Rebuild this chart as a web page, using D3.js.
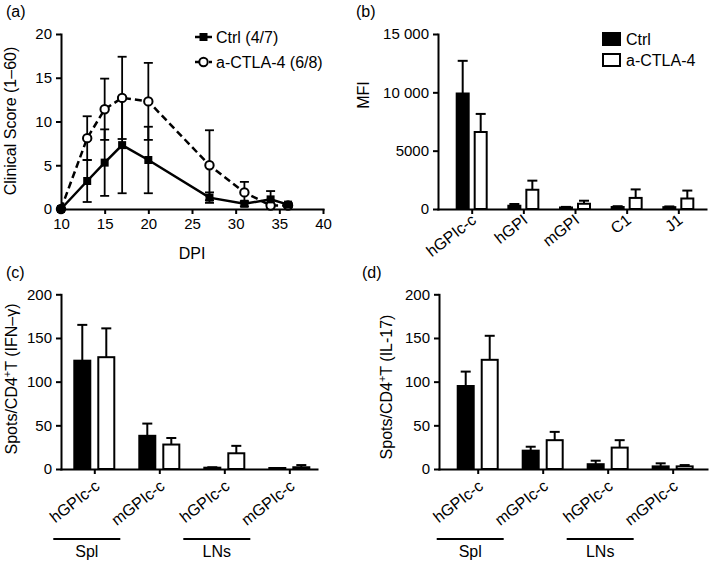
<!DOCTYPE html>
<html><head><meta charset="utf-8">
<script src="https://cdn.jsdelivr.net/npm/d3@7"></script>
<style>
body{margin:0;background:#fff}
svg{display:block;font-family:"Liberation Sans",Arial,Helvetica,sans-serif}
</style></head><body>
<svg id="chart" width="709" height="562"></svg>
<script>
// ---------- Data ----------
// (a) clinical score
const dpiDays = [10, 13, 15, 17, 20, 27, 31, 34, 36];
const ctrlScore = [0, 3.2, 5.3, 7.3, 5.6, 1.3, 0.6, 1.1, 0.5];
const ctrlScoreErr = [0, 2.4, 3.8, 5.5, 3.8, 0.6, 0.3, 0.95, 0.2];
const actlaScore = [0, 8.1, 11.4, 12.7, 12.3, 5.0, 1.9, 0.4, 0.4];
const actlaScoreErr = [0, 2.5, 3.5, 4.7, 4.4, 4.0, 1.2, 0.2, 0.2];
const scoreTicks = [0, 5, 10, 15, 20];
const dpiTicks = [10, 15, 20, 25, 30, 35, 40];
const scoreLegend = ["Ctrl (4/7)", "a-CTLA-4 (6/8)"];

// (b) MFI
const mfiCats = ["hGPIc-c", "hGPI", "mGPI", "C1", "J1"];
const mfiCtrl = [9900, 280, 130, 170, 160];
const mfiCtrlErr = [2800, 150, 50, 70, 60];
const mfiActla = [6600, 1650, 450, 950, 900];
const mfiActlaErr = [1550, 780, 260, 730, 680];
const mfiTicks = [0, 5000, 10000, 15000];
const seriesNames = ["Ctrl", "a-CTLA-4"];

// (c),(d) ELISpot
const spotCats = ["hGPIc-c", "mGPIc-c", "hGPIc-c", "mGPIc-c"];
const spotGroupNames = ["Spl", "LNs"];
const spotGroupStart = [0, 2];
const spotGroupEnd = [1, 3];
const ifnCtrl = [124, 38, 1.5, 0.3];
const ifnCtrlErr = [41, 14, 0.5, 0];
const ifnActla = [128, 28, 18, 2];
const ifnActlaErr = [33, 7.5, 8.5, 2.5];
const il17Ctrl = [95, 21, 5.5, 3];
const il17CtrlErr = [16.5, 4.5, 4, 3.5];
const il17Actla = [125, 33, 24.5, 3];
const il17ActlaErr = [27.5, 9.5, 8.5, 1.5];
const spotTicks = [0, 50, 100, 150, 200];

// ---------- Drawing ----------
const svg = d3.select("#chart");
const INK = "#000";
const FONT = '"Liberation Sans",Arial,Helvetica,sans-serif';
const TICK_FS = 15, LABEL_FS = 16;

function styleAxis(g) {
  g.attr("font-family", FONT).attr("font-size", TICK_FS);
  g.selectAll("path.domain").attr("stroke", INK).attr("stroke-width", 2).attr("stroke-linecap", "square");
  g.selectAll(".tick line").attr("stroke", INK).attr("stroke-width", 2);
  g.selectAll(".tick text").attr("fill", INK);
}

function panelLabel(txt, x, y) {
  svg.append("text").attr("x", x).attr("y", y).attr("font-size", LABEL_FS).attr("fill", INK).text(txt);
}

function yTitle(x, y, parts) {
  const t = svg.append("text").attr("transform", `translate(${x},${y}) rotate(-90)`)
    .attr("text-anchor", "middle").attr("font-size", LABEL_FS).attr("fill", INK);
  parts.forEach(p => {
    const s = t.append("tspan").text(p.t);
    if (p.sup) s.attr("dy", -6).attr("font-size", 11);
    if (p.after) s.attr("dy", 6);
  });
}

// ----- Panel (a) -----
(function () {
  const x = d3.scaleLinear().domain([10, 40]).range([61, 323]);
  const y = d3.scaleLinear().domain([0, 20]).range([209, 34]);
  const gx = svg.append("g").attr("transform", "translate(0,209)")
    .call(d3.axisBottom(x).tickValues(dpiTicks).tickSize(5).tickSizeOuter(0).tickPadding(4));
  const gy = svg.append("g").attr("transform", "translate(61,0)")
    .call(d3.axisLeft(y).tickValues(scoreTicks).tickSize(5).tickSizeOuter(0).tickPadding(4));
  styleAxis(gx); styleAxis(gy);

  const series = [
    {v: actlaScore, e: actlaScoreErr, dash: "7,4"},
    {v: ctrlScore, e: ctrlScoreErr, dash: null}
  ];
  const cap = 4.5;
  series.slice().reverse().forEach(s => {
    const g = svg.append("g").attr("stroke", INK).attr("stroke-width", 1.8);
    dpiDays.forEach((d, i) => {
      if (s.e[i] <= 0) return;
      const lo = y(Math.max(0, s.v[i] - s.e[i])), hi = y(s.v[i] + s.e[i]);
      g.append("line").attr("x1", x(d)).attr("x2", x(d)).attr("y1", lo).attr("y2", hi);
      g.append("line").attr("x1", x(d) - cap).attr("x2", x(d) + cap).attr("y1", hi).attr("y2", hi);
      g.append("line").attr("x1", x(d) - cap).attr("x2", x(d) + cap).attr("y1", lo).attr("y2", lo);
    });
  });
  const line = d3.line().x((d, i) => x(dpiDays[i])).y(d => y(d));
  series.forEach(s => {
    svg.append("path").attr("d", line(s.v)).attr("fill", "none").attr("stroke", INK)
      .attr("stroke-width", 2.5).attr("stroke-dasharray", s.dash);
  });
  svg.append("g").selectAll("circle").data(actlaScore).join("circle")
    .attr("cx", (d, i) => x(dpiDays[i])).attr("cy", d => y(d)).attr("r", 4.2)
    .attr("fill", "#fff").attr("stroke", INK).attr("stroke-width", 2);
  svg.append("g").selectAll("rect").data(ctrlScore).join("rect")
    .attr("x", (d, i) => x(dpiDays[i]) - 4).attr("y", d => y(d) - 4)
    .attr("width", 8).attr("height", 8).attr("fill", INK);

  const lg = svg.append("g");
  [37, 62].forEach((ly, k) => {
    lg.append("line").attr("x1", 195).attr("x2", 212).attr("y1", ly).attr("y2", ly)
      .attr("stroke", INK).attr("stroke-width", 2.5).attr("stroke-dasharray", k === 1 ? "4,3" : null);
    if (k === 0) lg.append("rect").attr("x", 199.5).attr("y", ly - 4).attr("width", 8).attr("height", 8).attr("fill", INK);
    else lg.append("circle").attr("cx", 203.5).attr("cy", ly).attr("r", 4.2).attr("fill", "#fff").attr("stroke", INK).attr("stroke-width", 2);
    lg.append("text").attr("x", 216).attr("y", ly).attr("dy", "0.36em").attr("font-size", LABEL_FS).attr("fill", INK).text(scoreLegend[k]);
  });

  svg.append("text").attr("x", 192).attr("y", 259).attr("text-anchor", "middle")
    .attr("font-size", LABEL_FS).attr("fill", INK).text("DPI");
  yTitle(16, 121, [{t: "Clinical Score (1–60)"}]);
  panelLabel("(a)", 6, 17);
})();

// ----- generic bar panel -----
function barPanel(o) {
  const x = d3.scalePoint().domain(d3.range(o.cats.length)).range([o.left, o.right]).padding(o.pad).align(o.align);
  const x1 = d3.scaleBand().domain(seriesNames).range([-o.half, o.half]).paddingInner(o.inner);
  const y = d3.scaleLinear().domain([0, o.yMax]).range([o.bottom, o.top]);

  const gx = svg.append("g").attr("transform", `translate(0,${o.bottom})`)
    .call(d3.axisBottom(x).tickSize(5).tickSizeOuter(0).tickFormat(i => o.cats[i]));
  styleAxis(gx);
  // slanted category labels, anchored at their end just below-right of each tick
  gx.selectAll(".tick text")
    .attr("x", 0).attr("y", 0).attr("dy", null)
    .attr("font-size", LABEL_FS).attr("text-anchor", "end")
    .attr("transform", `translate(${o.ldx},${o.ldy}) rotate(${o.angle})`);
  const gy = svg.append("g").attr("transform", `translate(${o.left},0)`)
    .call(d3.axisLeft(y).tickValues(o.ticks).tickSize(5).tickSizeOuter(0).tickPadding(4).tickFormat(o.fmt || (d => d)));
  styleAxis(gy);

  const series = [
    {name: seriesNames[0], v: o.ctrl, e: o.ctrlErr, fill: INK},
    {name: seriesNames[1], v: o.act, e: o.actErr, fill: "#fff"}
  ];
  series.forEach(s => {
    const g = svg.append("g");
    s.v.forEach((v, i) => {
      const bx = x(i) + x1(s.name), bw = x1.bandwidth();
      const cx = bx + bw / 2;
      if (s.e[i] > 0) {
        const hi = y(v + s.e[i]);
        g.append("line").attr("x1", cx).attr("x2", cx).attr("y1", y(v)).attr("y2", hi).attr("stroke", INK).attr("stroke-width", 2);
        g.append("line").attr("x1", cx - o.cap).attr("x2", cx + o.cap).attr("y1", hi).attr("y2", hi).attr("stroke", INK).attr("stroke-width", 2);
      }
      g.append("rect").attr("x", bx + 1).attr("width", bw - 2)
        .attr("y", Math.min(y(v), o.bottom - 1)).attr("height", Math.max(1, o.bottom - y(v)))
        .attr("fill", s.fill).attr("stroke", INK).attr("stroke-width", 2);
    });
  });
  return x;
}

// ----- Panel (b) -----
barPanel({
  left: 438, right: 706, top: 34, bottom: 209, yMax: 15000, ticks: mfiTicks,
  fmt: d => d >= 10000 ? d3.format(",")(d).replace(/,/g, " ") : String(d),
  cats: mfiCats, ctrl: mfiCtrl, ctrlErr: mfiCtrlErr, act: mfiActla, actErr: mfiActlaErr,
  pad: 0.594, align: 0.549, half: 16, inner: 0.222, cap: 5,
  ldx: 5, ldy: 13, angle: -38
});
yTitle(369, 95, [{t: "MFI"}]);
panelLabel("(b)", 356, 17);
{
  const lg = svg.append("g");
  [39, 60].forEach((ly, k) => {
    lg.append("rect").attr("x", 603).attr("y", ly - 6).attr("width", 17).attr("height", 12)
      .attr("fill", k === 0 ? INK : "#fff").attr("stroke", INK).attr("stroke-width", 2);
    lg.append("text").attr("x", 626).attr("y", ly).attr("dy", "0.36em").attr("font-size", LABEL_FS).attr("fill", INK).text(seriesNames[k]);
  });
}

// ----- Panels (c),(d) -----
function groupBars(x) {
  spotGroupNames.forEach((name, k) => {
    const x0 = x(spotGroupStart[k]) - 41, x1 = x(spotGroupEnd[k]) - 39;
    svg.append("line").attr("x1", x0).attr("x2", x1).attr("y1", 539).attr("y2", 539).attr("stroke", INK).attr("stroke-width", 2);
    svg.append("text").attr("x", (x0 + x1) / 2).attr("y", 557).attr("text-anchor", "middle")
      .attr("font-size", LABEL_FS).attr("fill", INK).text(name);
  });
}
const xc = barPanel({
  left: 61, right: 317, top: 294.3, bottom: 469, yMax: 200, ticks: spotTicks,
  cats: spotCats, ctrl: ifnCtrl, ctrlErr: ifnCtrlErr, act: ifnActla, actErr: ifnActlaErr,
  pad: 0.469, align: 0.546, half: 21, inner: 0.25, cap: 5,
  ldx: 6, ldy: 19, angle: -38
});
groupBars(xc);
yTitle(17, 379, [{t: "Spots/CD4"}, {t: "+", sup: true}, {t: "T (IFN–γ)", after: true}]);
panelLabel("(c)", 6, 278);

const xd = barPanel({
  left: 439, right: 707, top: 294.3, bottom: 469, yMax: 200, ticks: spotTicks,
  cats: spotCats, ctrl: il17Ctrl, ctrlErr: il17CtrlErr, act: il17Actla, actErr: il17ActlaErr,
  pad: 0.562, align: 0.53, half: 21, inner: 0.25, cap: 5,
  ldx: 6, ldy: 19, angle: -38
});
groupBars(xd);
yTitle(392, 387, [{t: "Spots/CD4"}, {t: "+", sup: true}, {t: "T (IL-17)", after: true}]);
panelLabel("(d)", 362, 278);
</script>
</body></html>
